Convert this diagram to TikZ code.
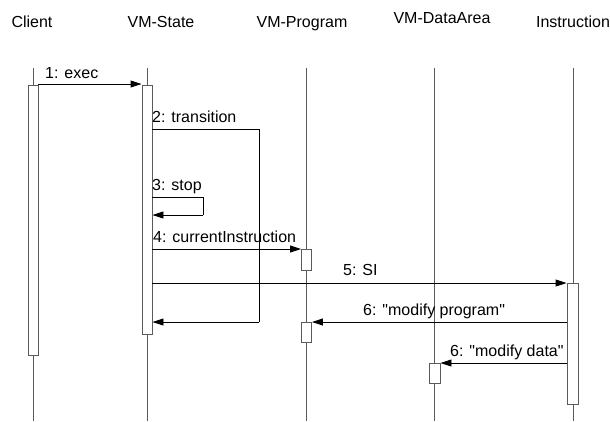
\documentclass[tikz,border=0pt]{standalone}
\usepackage{fontspec}
\setmainfont{Liberation Sans}[Ligatures=TeXOff]
\usetikzlibrary{arrows.meta}
\definecolor{lifegray}{HTML}{5A5A5A}
\tikzset{
  lifeline/.style={draw=lifegray, line width=0.9bp},
  actbox/.style={draw=lifegray, fill=white, line width=0.9bp, minimum width=10bp, inner sep=0pt, anchor=north},
  msg/.style={draw=black, line width=0.9bp, -{Triangle[length=11bp,width=7bp]}},
  msgline/.style={draw=black, line width=0.9bp},
  head/.style={inner sep=0pt, anchor=base, font=\fontsize{16bp}{19bp}\selectfont},
  lbl/.style={inner sep=0pt, anchor=base west, font=\fontsize{16bp}{19bp}\selectfont}
}
\begin{document}
\begin{tikzpicture}[x=1bp,y=-1bp]
\useasboundingbox (0,0) rectangle (610,421);
% headers
\node[head] (hcl) at (32,27) {Client};
\node[head] (hvs) at (161,27) {VM-State};
\node[head] (hvp) at (302,27) {VM-Program};
\node[head] (hda) at (442,23) {VM-DataArea};
\node[head] (hin) at (573,27) {Instruction};
% lifelines
\coordinate (lt1) at (33,68);  \coordinate (lb1) at (33,421);
\coordinate (lt2) at (147,68); \coordinate (lb2) at (147,421);
\coordinate (lt3) at (306,68); \coordinate (lb3) at (306,421);
\coordinate (lt4) at (434,68); \coordinate (lb4) at (434,421);
\coordinate (lt5) at (573,68); \coordinate (lb5) at (573,421);
\draw[lifeline] (lt1) -- (lb1);
\draw[lifeline] (lt2) -- (lb2);
\draw[lifeline] (lt3) -- (lb3);
\draw[lifeline] (lt4) -- (lb4);
\draw[lifeline] (lt5) -- (lb5);
% activation boxes
\node[actbox, minimum height=270bp] (acl) at (33,85) {};
\node[actbox, minimum height=249bp] (avs) at (147,85) {};
\node[actbox, minimum height=21bp] (avp1) at (306.5,249) {};
\node[actbox, minimum height=20bp] (avp2) at (306.5,322) {};
\node[actbox, minimum height=20bp, minimum width=11bp] (ada) at (434.5,363) {};
\node[actbox, minimum height=121bp, minimum width=11bp] (ain) at (572.5,283) {};
% 1: exec
\draw[msg] (acl.east |- 0,84) -- (avs.west |- 0,84);
\node[lbl] (l1) at (45,78) {1: exec};
% 2: transition
\coordinate (t1) at (259,129);
\coordinate (t2) at (259,322);
\draw[msgline] (avs.east |- t1) -- (t1) -- (t2);
\draw[msg] (t2) -- (avs.east |- t2);
\node[lbl] (l2) at (152,122) {2: transition};
% 3: stop
\coordinate (s1) at (203,197);
\coordinate (s2) at (203,215);
\draw[msgline] (avs.east |- s1) -- (s1) -- (s2);
\draw[msg] (s2) -- (avs.east |- s2);
\node[lbl] (l3) at (152,190) {3: stop};
% 4: currentInstruction
\draw[msg] (avs.east |- avp1.north) -- (avp1.north west);
\node[lbl] (l4) at (153,242) {4: currentInstruction};
% 5: SI
\draw[msg] (avs.east |- ain.north) -- (ain.north west);
\node[lbl] (l5) at (343,275) {5: SI};
% 6: modify program
\draw[msg] (ain.west |- avp2.north) -- (avp2.north east);
\node[lbl] (l6) at (363,315) {6: "modify program"};
% 6: modify data
\draw[msg] (ain.west |- ada.north) -- (ada.north east);
\node[lbl] (l7) at (450,356) {6: "modify data"};
\end{tikzpicture}
\end{document}
